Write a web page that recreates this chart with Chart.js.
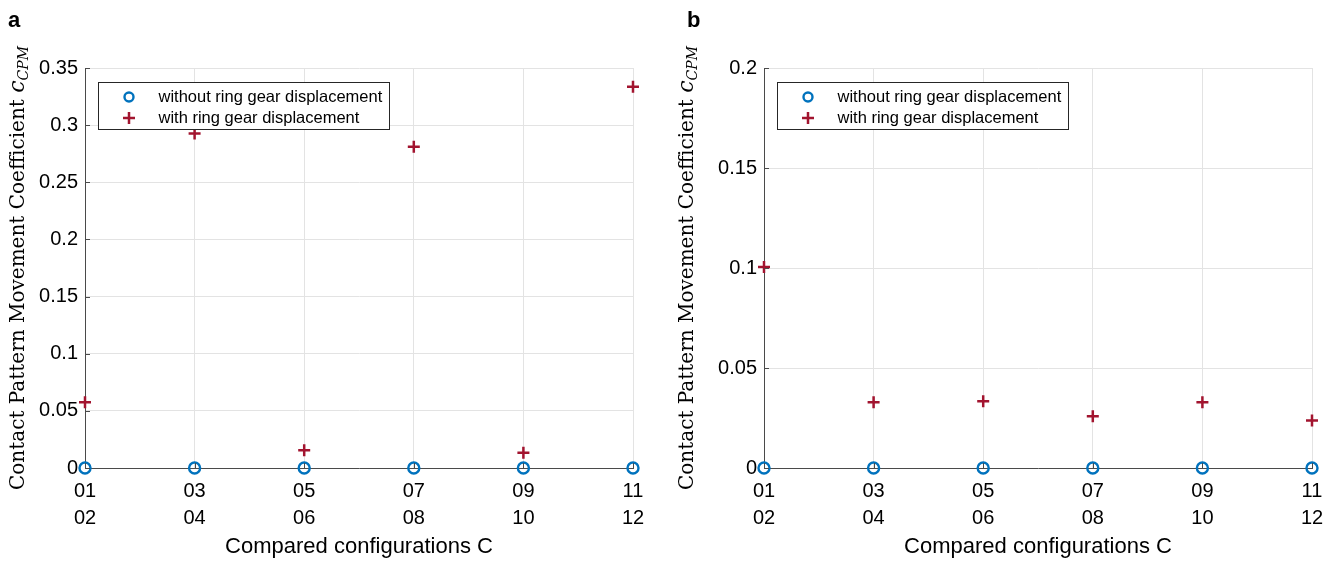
<!DOCTYPE html>
<html>
<head>
<meta charset="utf-8">
<script src="https://cdn.jsdelivr.net/npm/chart.js@4.4.1/dist/chart.umd.min.js"></script>
<style>
  html, body { margin: 0; padding: 0; background: #fff; }
  .wrap { position: relative; width: 1338px; height: 563px; }
  .panel { position: absolute; top: 0; width: 669px; height: 563px; }
  #panel-a { left: 0; }
  #panel-b { left: 669px; }
</style>
</head>
<body>
<div class="wrap">
  <div class="panel" id="panel-a"><canvas id="chartA" width="669" height="563"></canvas></div>
  <div class="panel" id="panel-b"><canvas id="chartB" width="669" height="563"></canvas></div>
</div>
<script>
// Data
const categories = [["01", "02"], ["03", "04"], ["05", "06"], ["07", "08"], ["09", "10"], ["11", "12"]];
const seriesNames = ["without ring gear displacement", "with ring gear displacement"];

const withoutA = [0, 0, 0, 0, 0, 0];
const withA = [0.0576, 0.2927, 0.0156, 0.281, 0.0134, 0.3335];

const withoutB = [0, 0, 0, 0, 0, 0];
const withB = [0.1005, 0.0329, 0.0334, 0.0259, 0.0329, 0.0238];

const yMaxA = 0.35;
const yMaxB = 0.2;
const yStep = 0.05;

const blue = "#0072BD";
const red = "#A2142F";
const gridColor = "#e3e3e3";
const axisColor = "#4a4a4a";
const sansFont = "'Liberation Sans', Arial, sans-serif";

// panel letter, y title (LaTeX-ish), inward ticks, legend box
const decorPlugin = {
  id: "decor",
  afterDatasetsDraw(chart, args, opts) {
    const { ctx, chartArea } = chart;
    const xs = chart.scales.x;
    const ys = chart.scales.y;
    ctx.save();

    // inward tick marks
    ctx.strokeStyle = axisColor;
    ctx.lineWidth = 1;
    ctx.beginPath();
    ys.ticks.forEach(t => {
      const py = Math.round(ys.getPixelForValue(t.value)) + 0.5;
      ctx.moveTo(chartArea.left, py);
      ctx.lineTo(chartArea.left + 5, py);
    });
    xs.ticks.forEach((t, i) => {
      const px = Math.round(xs.getPixelForTick(i)) + 0.5;
      ctx.moveTo(px, chartArea.bottom);
      ctx.lineTo(px, chartArea.bottom - 5);
    });
    ctx.stroke();

    // legend box
    const bx = chartArea.left + 13.5, by = chartArea.top + 14.5, bw = 291, bh = 47;
    ctx.fillStyle = "#fff";
    ctx.fillRect(bx, by, bw, bh);
    ctx.strokeStyle = "#262626";
    ctx.lineWidth = 1;
    ctx.strokeRect(bx, by, bw, bh);

    ctx.font = "16.5px " + sansFont;
    ctx.fillStyle = "#000";
    ctx.textBaseline = "middle";
    ctx.textAlign = "left";
    chart.data.datasets.forEach((ds, i) => {
      const cy = by + 14.5 + i * 21;
      const cx = bx + 30.5;
      ctx.strokeStyle = ds.borderColor;
      ctx.lineWidth = ds.borderWidth;
      ctx.beginPath();
      if (ds.pointStyle === "circle") {
        ctx.arc(cx, cy, 4.5, 0, Math.PI * 2);
      } else {
        ctx.moveTo(cx - 6, cy); ctx.lineTo(cx + 6, cy);
        ctx.moveTo(cx, cy - 6); ctx.lineTo(cx, cy + 6);
      }
      ctx.stroke();
      ctx.fillText(ds.label, bx + 60, cy);
    });

    ctx.restore();
  },
  afterDraw(chart, args, opts) {
    const { ctx, chartArea } = chart;
    ctx.save();
    // panel letter
    ctx.fillStyle = "#000";
    ctx.font = "bold 22px " + sansFont;
    ctx.textAlign = "left";
    ctx.textBaseline = "alphabetic";
    ctx.fillText(opts.letter, opts.letterX, 27);

    // y axis title, rotated
    const main = "Contact Pattern Movement Coefficient ";
    const mainFont = "20px 'DejaVu Serif', 'Liberation Serif', serif";
    const cFont = "italic 22px 'DejaVu Serif', 'Liberation Serif', serif";
    const subFont = "italic 14px 'DejaVu Serif', 'Liberation Serif', serif";
    ctx.font = mainFont; const w1 = ctx.measureText(main).width;
    ctx.font = cFont; const w2 = ctx.measureText("c").width;
    ctx.font = subFont; const w3 = ctx.measureText("CPM").width;
    const total = w1 + w2 + w3;
    const cyMid = (chartArea.top + chartArea.bottom) / 2;
    ctx.translate(opts.titleX, cyMid);
    ctx.rotate(-Math.PI / 2);
    let x = -total / 2;
    ctx.textBaseline = "alphabetic";
    ctx.font = mainFont; ctx.fillText(main, x, 0); x += w1;
    ctx.font = cFont; ctx.fillText("c", x, 0); x += w2;
    ctx.font = subFont; ctx.fillText("CPM", x, 4);
    ctx.restore();
  }
};

function makeChart(id, withoutVals, withVals, yMax, cfg) {
  return new Chart(document.getElementById(id), {
    type: "line",
    data: {
      labels: categories,
      datasets: [
        {
          label: seriesNames[0],
          data: withoutVals,
          showLine: false,
          pointStyle: "circle",
          pointRadius: 5.5,
          pointBorderWidth: 2.4,
          borderWidth: 2.4,
          borderColor: blue,
          pointBackgroundColor: "rgba(0,0,0,0)",
          clip: false
        },
        {
          label: seriesNames[1],
          data: withVals,
          showLine: false,
          pointStyle: "cross",
          pointRadius: 6,
          pointBorderWidth: 2.5,
          borderWidth: 2.5,
          borderColor: red,
          pointBackgroundColor: red,
          clip: false
        }
      ]
    },
    options: {
      responsive: false,
      animation: false,
      layout: { padding: { left: 0, right: cfg.padRight, top: 68, bottom: 0 } },
      plugins: {
        legend: { display: false },
        tooltip: { enabled: false },
        decor: { letter: cfg.letter, letterX: cfg.letterX, titleX: cfg.titleX }
      },
      scales: {
        x: {
          type: "category",
          offset: false,
          grid: { color: gridColor, drawTicks: false, lineWidth: 1 },
          border: { color: axisColor, width: 1 },
          ticks: {
            color: "#000",
            padding: 10,
            maxRotation: 0,
            autoSkip: false,
            font: { family: sansFont, size: 20, lineHeight: 1.35 }
          },
          title: {
            display: true,
            text: "Compared configurations C",
            color: "#000",
            padding: { top: 4, bottom: 3 },
            font: { family: sansFont, size: 22 }
          },
          afterFit(scale) { scale.height = 95; }
        },
        y: {
          min: 0,
          max: yMax,
          grid: { color: gridColor, drawTicks: false, lineWidth: 1 },
          border: { color: axisColor, width: 1 },
          ticks: {
            stepSize: yStep,
            color: "#000",
            padding: 7,
            font: { family: sansFont, size: 20 },
            callback: v => String(+v.toFixed(2))
          },
          afterFit(scale) { scale.width = cfg.yWidth; }
        }
      }
    },
    plugins: [decorPlugin]
  });
}

makeChart("chartA", withoutA, withA, yMaxA, { letter: "a", letterX: 8, titleX: 24, yWidth: 85, padRight: 36 });
makeChart("chartB", withoutB, withB, yMaxB, { letter: "b", letterX: 18, titleX: 24, yWidth: 95, padRight: 26 });
</script>
</body>
</html>
